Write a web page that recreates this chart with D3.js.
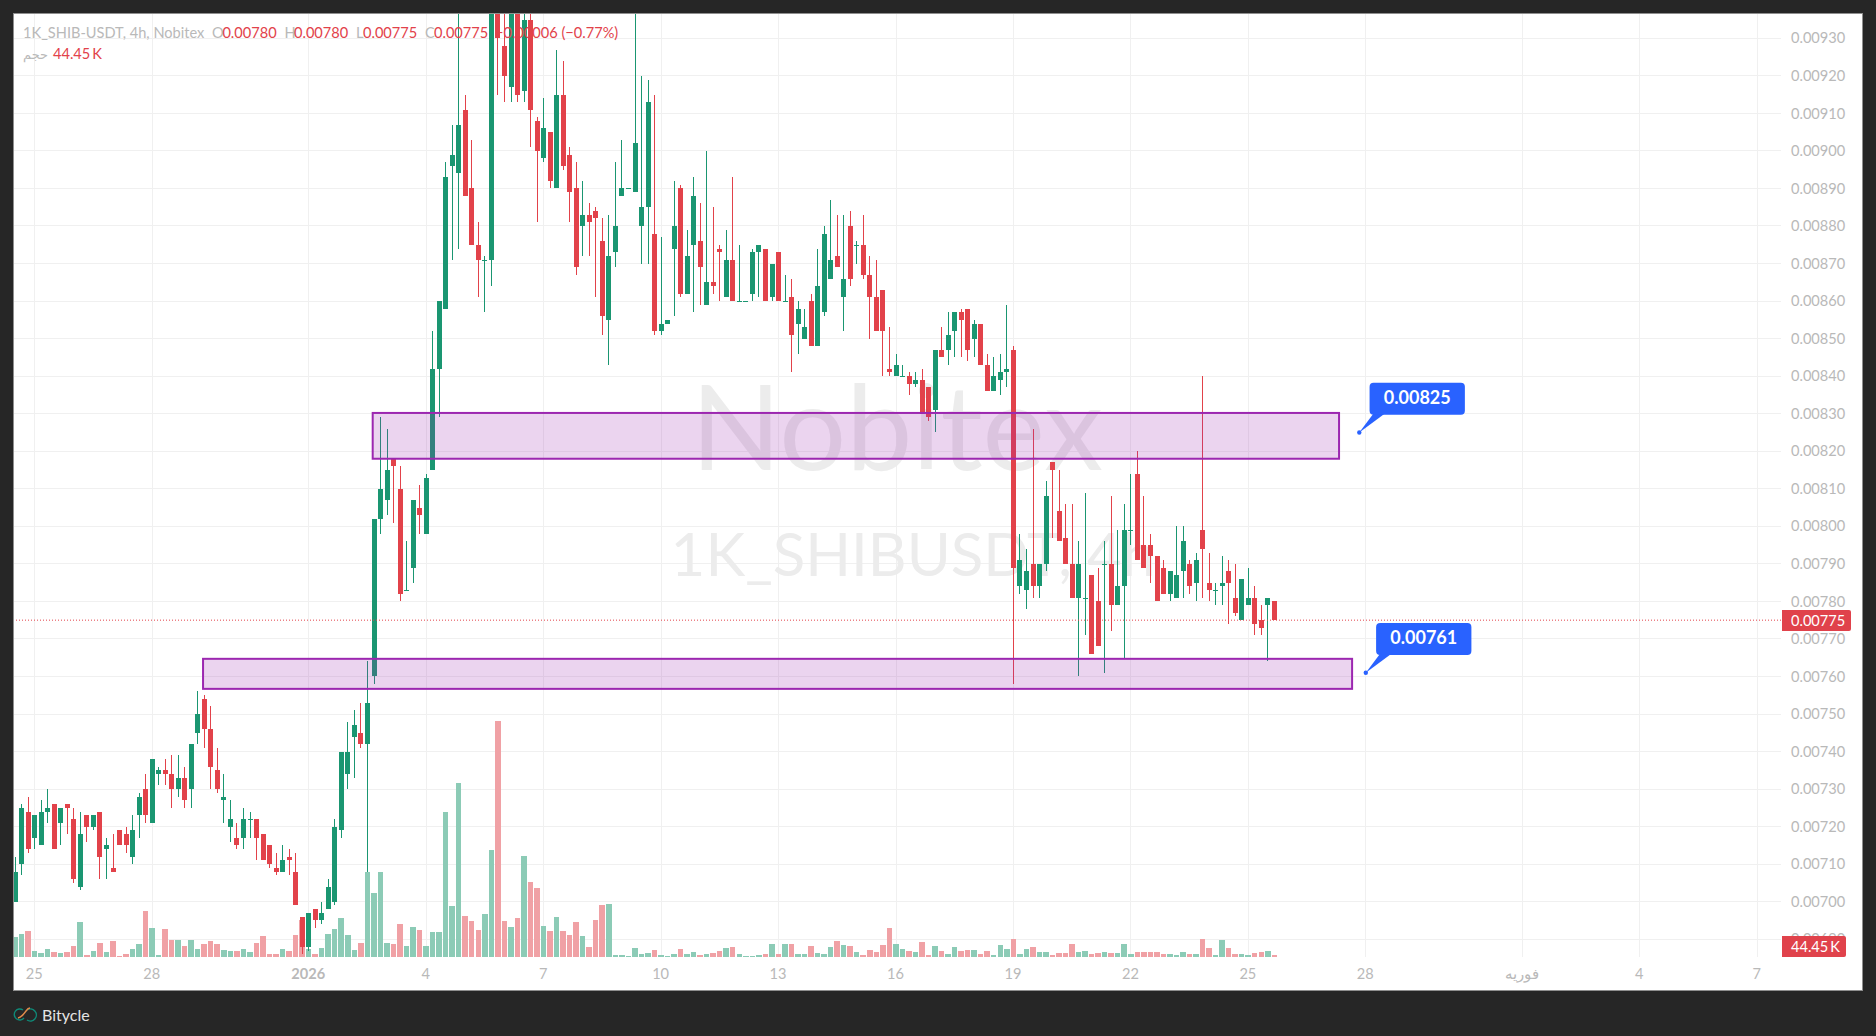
<!DOCTYPE html>
<html><head><meta charset="utf-8">
<script src="https://cdn.jsdelivr.net/npm/d3@7/dist/d3.min.js"></script>
<style>html,body{margin:0;padding:0;background:#262626;overflow:hidden}svg{display:block}</style>
</head><body><svg id="c" width="1876" height="1036"></svg>
<script>
// Prices are in units of 0.00001 USDT; the first bar sits three 4h bars before 25 December.
const firstBarOffset = -3;
const opens = [700,710,724,717,715,724,726,721,726,722,
704,723,720,724,714,709,719,718,712,723,
730,721,734,735,734,730,733,730,745,754,
746,735,727,720,717,717,722,722,718,715,
709,708,712,708,696,688,698,695,698,700,
719,734,744,745,742,760,802,807,818,810,
783,789,805,798,815,842,858,896,894,911,
890,875,871,871,940,928,917,945,916,935,
908,898,905,890,915,899,890,880,883,884,
876,855,873,888,890,889,880,885,878,852,
854,874,890,862,875,876,859,865,874,861,
871,860,860,862,873,874,861,873,860,861,
854,850,860,848,857,866,872,861,880,875,
875,867,861,863,842,840,840,840,838,839,
837,831,847,847,852,857,858,850,854,843,
836,839,841,847,784,783,790,784,790,817,
804,797,790,781,781,787,780,790,790,779,
784,799,814,795,795,792,789,782,781,788,
790,785,799,785,783,784,788,781,775,779,
781,775,779,780];
const highs = [712,726,728,723,727,730,726,725,726,725,
724,723,723,724,717,718,719,720,723,729,
734,738,736,738,739,739,736,742,756,755,
752,741,734,727,721,725,724,722,718,715,
713,715,714,713,696,697,698,700,706,722,
740,748,751,753,764,802,829,826,818,816,
796,807,811,814,852,860,897,907,945,915,
903,881,872,950,950,945,950,950,945,945,
909,914,905,927,924,901,897,892,886,885,
882,883,897,903,890,945,920,919,915,877,
855,892,891,879,893,886,900,885,875,879,
893,875,860,874,875,874,870,873,867,866,
860,858,862,874,880,887,883,883,884,876,
883,872,871,863,853,846,843,841,841,842,
837,847,853,857,857,858,858,855,854,846,
845,846,859,848,798,794,826,790,812,817,
815,806,806,796,809,787,789,796,808,799,
806,814,820,808,798,792,791,788,800,800,
791,793,840,793,785,792,791,790,786,789,
784,779,781,780];
const lows = [700,707,713,714,715,721,714,715,718,705,
703,716,719,706,706,708,715,713,710,717,
721,721,731,731,725,728,725,725,742,741,
730,729,721,716,714,714,717,711,711,709,
707,708,707,699,686,687,693,694,698,699,
717,730,733,741,708,758,798,803,801,780,
783,785,798,798,815,829,858,871,874,888,
875,861,857,864,915,913,913,913,913,901,
881,897,890,890,895,881,867,872,872,861,
851,843,869,888,890,889,870,870,851,851,
854,856,861,862,857,859,859,862,860,861,
860,860,860,860,861,860,860,860,860,841,
846,850,848,848,856,866,869,852,864,870,
866,850,852,840,840,840,840,835,837,830,
828,825,845,843,845,845,844,845,843,836,
836,835,837,758,782,778,781,781,788,797,
796,790,781,760,771,766,768,761,772,779,
765,795,791,789,785,780,782,780,781,781,
782,780,781,780,779,779,774,776,775,779,
771,771,764,775];
const closes = [708,725,714,723,724,725,714,725,725,706,
718,720,723,712,715,708,715,715,719,728,
723,738,735,734,730,733,727,742,750,746,
736,730,728,722,715,722,722,717,711,710,
708,711,711,699,688,697,695,697,704,720,
740,740,747,742,753,802,810,815,816,782,
783,807,803,813,842,860,893,899,907,888,
875,871,871,945,930,920,945,915,935,911,
900,906,892,915,896,889,869,883,881,882,
856,872,880,890,890,902,885,913,852,854,
855,880,862,872,888,869,865,864,873,871,
860,860,860,873,875,860,870,860,860,851,
858,853,848,864,878,871,869,866,866,875,
867,861,852,852,841,843,840,838,839,830,
829,847,845,851,857,855,847,854,843,836,
840,841,842,789,791,788,784,790,808,815,
796,790,781,790,781,766,768,790,779,784,
799,799,791,789,792,780,782,788,787,796,
784,791,794,783,783,785,785,777,786,781,
774,773,781,775];
// Volume in thousands
const volumes = [400,460,520,120,80,160,100,80,100,220,
700,40,120,280,100,320,20,60,160,260,
920,580,40,560,340,340,220,340,160,260,
320,260,140,120,120,160,100,280,420,60,
60,160,120,440,740,160,60,180,460,560,
780,440,140,280,1700,1280,1700,280,260,660,
220,600,540,220,500,500,2900,1020,3480,820,
720,540,860,2140,4720,720,600,780,2020,1500,
1380,620,520,800,520,440,700,420,200,740,
1040,1060,40,40,20,180,60,80,140,40,
20,60,160,60,100,40,60,80,120,180,
200,60,20,20,40,60,260,60,260,260,
60,60,220,80,60,200,320,240,220,100,
40,140,100,240,580,260,160,120,100,300,
40,220,120,60,200,120,140,140,60,120,
40,240,160,360,60,160,200,100,100,40,
80,80,260,100,120,60,80,100,80,80,
260,60,100,100,100,100,60,60,40,100,
60,60,360,180,40,340,180,60,60,40,
80,100,120,44.45];
const priceTicks = [690,700,710,720,730,740,750,760,770,780,790,800,810,820,830,840,850,860,870,880,890,900,910,920,930];
const dayTicks = [0,3,7,10,13,16,19,22,25,28,31,34,38,41,44];
const dayLabels = ["25","28","2026","4","7","10","13","16","19","22","25","28","فوریه","4","7"];
const lastPrice = 775;
const zoneBars = [[51.8,199.9,830.2,818],[25.8,201.9,764.7,756.7]];
const calloutBars = [203,204];
const calloutPrices = [825,761];
const calloutLabels = ["0.00825","0.00761"];
const headerParts = [["1K_SHIB-USDT, 4h, Nobitex",23,0],["O",212,0],["0.00780",222.4,1],["H",284.5,0],["0.00780",294,1],["L",356,0],["0.00775",363,1],["C",425,0],["0.00775",434,1],["−0.00006 (−0.77%)",495,1]];

const GREEN="#1a9671", RED="#e2424a", GREY="#b9b9b9", FONT="Lato, 'Noto Sans', sans-serif";
const L=13,T=13,R=1781,B=957,FR=1863,FB=991;
const barsPerDay=6;
const x=d3.scaleLinear().domain([0,190]).range([34.7,34.7+6.525*190]);
const y=d3.scaleLinear().domain([700,930]).range([901.7,38.3]);
const vol=d3.scaleLinear().domain([0,4720]).range([B,721]);
const cx=i=>Math.round(x(i)-0.5);
const svg=d3.select("#c");
svg.style("font-family",FONT);
svg.append("rect").attr("x",13.5).attr("y",13.5).attr("width",FR-14).attr("height",FB-14).attr("fill","#fff").attr("stroke","#8f8f8f").attr("stroke-width",1);
svg.append("defs").append("clipPath").attr("id","plot").append("rect").attr("x",L+1).attr("y",T+1).attr("width",R-L-1).attr("height",B-T-1);

const plot=svg.append("g").attr("clip-path","url(#plot)");
const grid=plot.append("g").attr("stroke","#f0f0f0").attr("stroke-width",1).attr("shape-rendering","crispEdges");
grid.selectAll("line.h").data(priceTicks).join("line").attr("x1",L).attr("x2",R).attr("y1",d=>y(d)).attr("y2",d=>y(d));
grid.selectAll("line.v").data(dayTicks).join("line").attr("y1",T).attr("y2",B).attr("x1",d=>x(d*barsPerDay)).attr("x2",d=>x(d*barsPerDay));

plot.append("text").attr("x",897).attr("y",470).attr("text-anchor","middle").attr("font-size",118).attr("fill","#ececec").text("Nobitex");
plot.append("text").attr("x",913).attr("y",576).attr("text-anchor","middle").attr("font-size",60).attr("fill","#ececec").text("1K_SHIBUSDT, 4h");

const idx=opens.map((_,k)=>k+firstBarOffset);
const up=k=>closes[k]>=opens[k];
plot.append("g").attr("shape-rendering","crispEdges").selectAll("rect").data(idx).join("rect")
 .attr("x",i=>Math.round(x(i)-2.9)).attr("width",i=>Math.round(x(i)+2.6)-Math.round(x(i)-2.9))
 .attr("y",i=>vol(volumes[i-firstBarOffset])).attr("height",i=>B-vol(volumes[i-firstBarOffset]))
 .attr("fill",i=>up(i-firstBarOffset)?"#8ccbb6":"#f0a1a5");
const cg=plot.append("g").attr("shape-rendering","crispEdges");
cg.selectAll("line").data(idx).join("line")
 .attr("x1",i=>cx(i)+0.5).attr("x2",i=>cx(i)+0.5)
 .attr("y1",i=>y(highs[i-firstBarOffset])).attr("y2",i=>y(lows[i-firstBarOffset]))
 .attr("stroke",i=>up(i-firstBarOffset)?GREEN:RED).attr("stroke-width",1);
cg.selectAll("rect").data(idx).join("rect")
 .attr("x",i=>cx(i)-2).attr("width",5)
 .attr("y",i=>y(Math.max(opens[i-firstBarOffset],closes[i-firstBarOffset])))
 .attr("height",i=>Math.max(1,Math.abs(y(opens[i-firstBarOffset])-y(closes[i-firstBarOffset]))))
 .attr("fill",i=>up(i-firstBarOffset)?GREEN:RED);

plot.append("line").attr("x1",L).attr("x2",R).attr("y1",y(lastPrice)).attr("y2",y(lastPrice)).attr("stroke",RED).attr("stroke-width",1).attr("stroke-dasharray","1 2");

plot.append("g").selectAll("rect").data(zoneBars).join("rect")
 .attr("x",d=>x(d[0])).attr("width",d=>x(d[1])-x(d[0])).attr("y",d=>y(d[2])).attr("height",d=>y(d[3])-y(d[2]))
 .attr("fill","rgba(156,39,176,0.2)").attr("stroke","#9c27b0").attr("stroke-width",2);

// Callouts
const co=plot.append("g").selectAll("g").data(calloutBars).join("g").attr("transform",(d,k)=>`translate(${x(d)},${y(calloutPrices[k])})`);
co.append("path").attr("d","M15 -20 L27 -20 L0 0 Z").attr("fill","#2962ff");
co.append("circle").attr("r",2.2).attr("fill","#2962ff");
co.append("rect").attr("x",10.3).attr("y",-49.7).attr("width",95.3).attr("height",32).attr("rx",4).attr("fill","#2962ff");
co.append("text").attr("x",58).attr("y",-35).attr("dy",".36em").attr("text-anchor","middle").attr("fill","#fff").attr("font-size",18).attr("font-weight",700).text((d,k)=>calloutLabels[k]);

// Axes
const ya=d3.axisRight(y).tickValues(priceTicks).tickSize(0).tickPadding(0).tickFormat(d=>(d/1e5).toFixed(5));
const yg=svg.append("g").attr("transform",`translate(1791,0)`).call(ya);
yg.select(".domain").remove();
yg.selectAll("text").attr("fill",GREY).attr("font-size",14.6).attr("font-family",FONT);
const xa=d3.axisBottom(x).tickValues(dayTicks.map(d=>d*barsPerDay)).tickSize(0).tickPadding(0).tickFormat((d,k)=>dayLabels[k]);
const xg=svg.append("g").attr("transform",`translate(-1,${B+12})`).call(xa);
xg.select(".domain").remove();
xg.selectAll("text").attr("fill",GREY).attr("font-size",14.6).attr("font-family",FONT).attr("font-weight",(d,k)=>dayLabels[k]==="2026"?700:400);

// Price tags
const tag=(x0,x1,yc,txt)=>{
 svg.append("path").attr("d",`M${x0} ${yc-10.5} H${x1-2} a2 2 0 0 1 2 2 V${yc+8.5} a2 2 0 0 1 -2 2 H${x0} Z`).attr("fill","#e0424b");
 svg.append("text").attr("x",1791).attr("y",yc).attr("dy",".35em").attr("fill","#fff").attr("font-size",14.6).text(txt);
};
tag(1782,1851,y(lastPrice)+.3,(lastPrice/1e5).toFixed(5));
tag(1782,1846,946.5,"44.45\u2009K");

// Header
svg.append("g").selectAll("text").data(headerParts).join("text").attr("x",d=>d[1]).attr("y",32.7).attr("dy",".35em").attr("font-size",14.6)
 .attr("fill",d=>d[2]?RED:GREY).text(d=>d[0]);
svg.append("text").attr("x",23).attr("y",54).attr("dy",".35em").attr("font-size",13).attr("font-family","'DejaVu Sans'").attr("fill",GREY).text("حجم");
svg.append("text").attr("x",53).attr("y",54).attr("dy",".35em").attr("font-size",14.6).attr("fill",RED).text("44.45\u2009K");

// Footer
const logo=svg.append("g").attr("fill","none").attr("stroke-width",1.4);
logo.append("path").attr("d","M23 1010 A5.5 5.5 0 1 0 24 1018").attr("stroke","#0f8a78");
logo.append("path").attr("d","M27 1010 A6 6 0 1 1 27 1020").attr("stroke","#0f8a78");
logo.append("path").attr("d","M18 1018 C22 1017 24 1014 26 1011 S29 1008 30 1008").attr("stroke","#e08a4a");
svg.append("text").attr("x",42).attr("y",1015).attr("dy",".35em").attr("font-size",16).attr("fill","#e4e4e4").text("Bitycle");
</script></body></html>
